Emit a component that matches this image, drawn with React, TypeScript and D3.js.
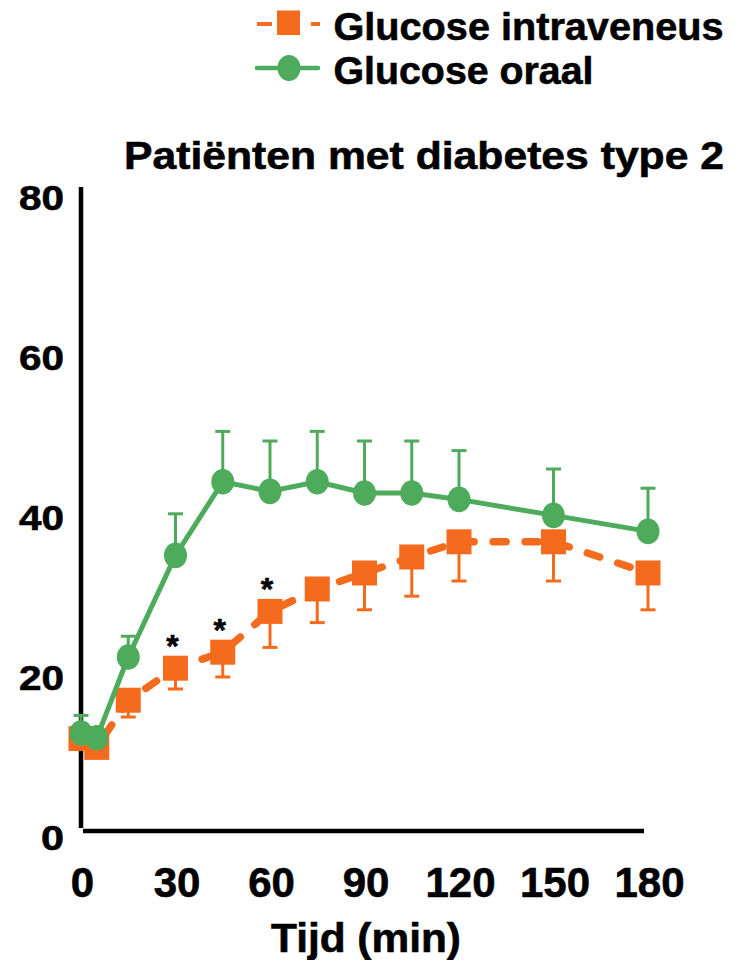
import React from "react";
import * as d3 from "d3";

const times = [0, 5, 15, 30, 45, 60, 75, 90, 105, 120, 150, 180];
const oralMean = [13.0, 12.4, 22.5, 35.2, 44.4, 43.2, 44.4, 43.0, 43.0, 42.2, 40.2, 38.2];
const oralUpper = [15.2, 13.5, 25.1, 40.4, 50.7, 49.5, 50.7, 49.5, 49.5, 48.3, 46.0, 43.6];
const ivMean = [12.3, 11.2, 17.1, 21.1, 23.1, 28.2, 31.0, 33.0, 35.0, 36.9, 36.9, 33.0];
const ivLower = [11.0, 10.5, 15.0, 18.5, 20.0, 23.7, 26.8, 28.4, 30.1, 32.0, 32.0, 28.4];
const significantTimes = [30, 45, 60];
const xTicks = [0, 30, 60, 90, 120, 150, 180];
const yTicks = [0, 20, 40, 60, 80];
const seriesNames = ["Glucose intraveneus", "Glucose oraal"];
const titleText = "Patiënten met diabetes type 2";
const xLabelText = "Tijd (min)";

const GREEN = "#4dab5b";
const ORANGE = "#f46b1e";
const FONT = "'Liberation Sans', Arial, Helvetica, sans-serif";

export default function App() {
  const W = 744;
  const H = 960;
  const x = d3.scaleLinear().domain([0, 180]).range([81, 648]);
  const y = d3.scaleLinear().domain([0, 80]).range([837, 197]);

  const ivData = times.map((t, i) => ({ t, v: ivMean[i], e: ivLower[i] }));
  const oralData = times.map((t, i) => ({ t, v: oralMean[i], e: oralUpper[i] }));

  const line = d3
    .line<{ t: number; v: number }>()
    .x((d) => x(d.t))
    .y((d) => y(d.v));

  const sq = 25;
  const cap = 7.5;
  const textStyle = { stroke: "#000", strokeWidth: 0.6 } as const;

  return (
    <svg
      width={W}
      height={H}
      viewBox={`0 0 ${W} ${H}`}
      style={{ position: "absolute", left: 0, top: 0, background: "#fff" }}
      fontFamily={FONT}
      fontWeight="bold"
    >
      <rect x={0} y={0} width={W} height={H} fill="#fff" />

      {/* Legend */}
      <g>
        <line x1={257} x2={272} y1={24} y2={24} stroke={ORANGE} strokeWidth={4} />
        <line x1={311} x2={320} y1={24} y2={24} stroke={ORANGE} strokeWidth={4} />
        <rect x={277} y={10.5} width={23} height={24.5} fill={ORANGE} />
        <text x={333.5} y={39.5} fontSize={39.5} textLength={390} lengthAdjust="spacingAndGlyphs" fill="#000" style={textStyle}>
          {seriesNames[0]}
        </text>
        <line x1={257} x2={318} y1={68} y2={68} stroke={GREEN} strokeWidth={4.5} strokeLinecap="round" />
        <ellipse cx={289} cy={68} rx={11.5} ry={13} fill={GREEN} />
        <text x={333.5} y={83.5} fontSize={39.5} textLength={260} lengthAdjust="spacingAndGlyphs" fill="#000" style={textStyle}>
          {seriesNames[1]}
        </text>
      </g>

      {/* Title */}
      <text x={124} y={168.5} fontSize={39} textLength={600} lengthAdjust="spacingAndGlyphs" fill="#000" style={textStyle}>
        {titleText}
      </text>

      {/* Axes */}
      <line x1={x(0)} x2={x(0)} y1={y(80) - 10} y2={y(0) - 9} stroke="#000" strokeWidth={4.5} />
      <line x1={x(0) + 2} x2={x(180) - 4} y1={y(0) - 6} y2={y(0) - 6} stroke="#000" strokeWidth={4.5} />

      {yTicks.map((v) => (
        <text
          key={`y${v}`}
          x={64}
          y={y(v) + 12.5}
          fontSize={35.5}
          textAnchor="end"
          textLength={String(v).length > 1 ? 45 : 23}
          lengthAdjust="spacingAndGlyphs"
          fill="#000"
          style={textStyle}
        >
          {v}
        </text>
      ))}

      {xTicks.map((t) => (
        <text key={`x${t}`} x={x(t) + 1.5} y={897} fontSize={42} textAnchor="middle" fill="#000" style={textStyle}>
          {t}
        </text>
      ))}

      <text x={366} y={952} fontSize={41} textAnchor="middle" textLength={190} lengthAdjust="spacingAndGlyphs" fill="#000" style={textStyle}>
        {xLabelText}
      </text>

      {/* IV series (orange, dashed) */}
      <path
        d={line(ivData) || ""}
        fill="none"
        stroke={ORANGE}
        strokeWidth={7.5}
        strokeDasharray="13 19"
        strokeLinecap="round"
      />
      {ivData.map((d, i) => (
        <g key={`ive${i}`} stroke={ORANGE} strokeWidth={3}>
          <line x1={x(d.t)} x2={x(d.t)} y1={y(d.v)} y2={y(d.e)} />
          <line x1={x(d.t) - cap} x2={x(d.t) + cap} y1={y(d.e)} y2={y(d.e)} />
        </g>
      ))}
      {ivData.map((d, i) => (
        <rect key={`ivm${i}`} x={x(d.t) - sq / 2} y={y(d.v) - sq / 2} width={sq} height={sq} fill={ORANGE} />
      ))}

      {/* Significance markers */}
      {significantTimes.map((t) => {
        const i = times.indexOf(t);
        return (
          <text key={`s${t}`} x={x(t) - 3} y={y(ivMean[i]) - 29 + 18} fontSize={32} textAnchor="middle" fill="#000" style={textStyle}>
            *
          </text>
        );
      })}

      {/* Oral series (green, solid) */}
      <path d={line(oralData) || ""} fill="none" stroke={GREEN} strokeWidth={5} strokeLinejoin="round" />
      {oralData.map((d, i) => (
        <g key={`ore${i}`} stroke={GREEN} strokeWidth={3}>
          <line x1={x(d.t)} x2={x(d.t)} y1={y(d.v)} y2={y(d.e)} />
          <line x1={x(d.t) - cap} x2={x(d.t) + cap} y1={y(d.e)} y2={y(d.e)} />
        </g>
      ))}
      {oralData.map((d, i) => (
        <ellipse key={`orm${i}`} cx={x(d.t)} cy={y(d.v)} rx={11.5} ry={12.8} fill={GREEN} />
      ))}
    </svg>
  );
}
